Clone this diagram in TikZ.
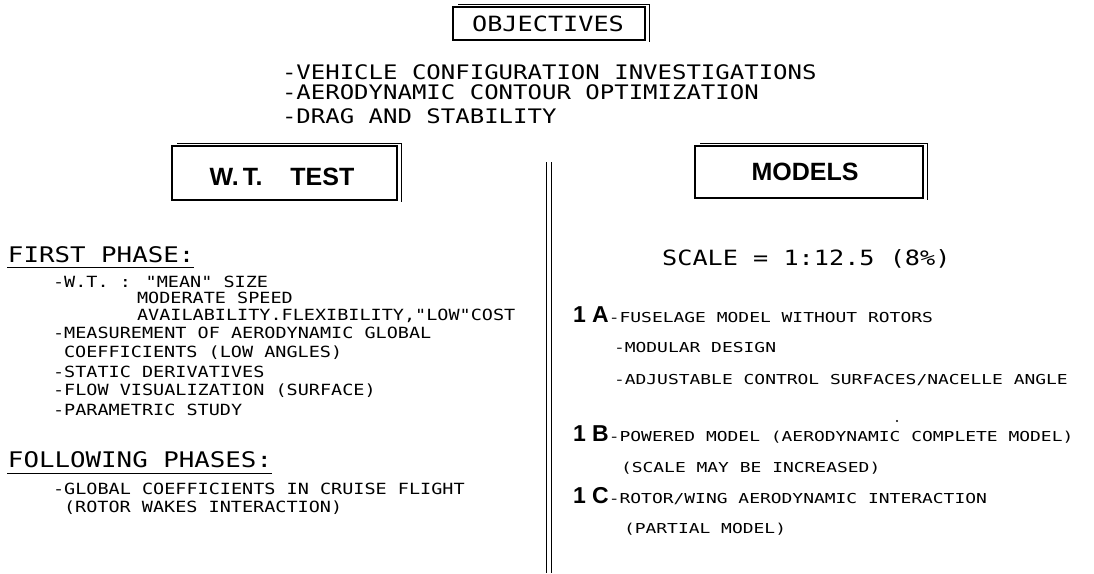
\documentclass[tikz,border=0pt]{standalone}
\usepackage{fontspec}
\newfontfamily\plotA[FakeStretch=1.2]{DejaVu Sans Mono}
\newfontfamily\plotB[FakeStretch=1.31]{DejaVu Sans Mono}
\newfontfamily\heavy{Liberation Sans}
\begin{document}
\begin{tikzpicture}[x=1pt,y=-1pt,
  txt/.style={inner sep=0pt, outer sep=0pt, anchor=base west},
  objt/.style={txt, font=\plotA\fontsize{20}{24}\selectfont},
  headt/.style={txt, font=\plotA\fontsize{21.5}{26}\selectfont},
  bodyt/.style={txt, font=\plotA\fontsize{15.4}{18}\selectfont},
  smallt/.style={txt, font=\plotB\fontsize{13.7}{16}\selectfont},
  bignum/.style={txt, font=\heavy\bfseries\fontsize{23}{27}\selectfont},
  boxed/.style={draw, line width=1.1pt, inner sep=0pt, outer sep=0pt},
  shadowline/.style={line width=1pt},
  titlet/.style={inner sep=0pt, font=\heavy\bfseries\fontsize{25}{30}\selectfont},
  boxlabel/.style={inner sep=0pt, font=\plotA\fontsize{21}{25}\selectfont},
  underl/.style={line width=1pt}
]
\useasboundingbox (0,0) rectangle (1094,573);

% OBJECTIVES
\node[boxed, minimum width=192pt, minimum height=33pt] (objbox) at (549,23.5) {};
\draw[shadowline] ([shift={(5pt,3pt)}]objbox.north west) -| ([shift={(4pt,-2pt)}]objbox.south east);
\node[boxlabel] (objlbl) at (548,24) {OBJECTIVES};

\node[objt] (o1) at (282,79.5) {-VEHICLE CONFIGURATION INVESTIGATIONS};
\node[objt] (o2) at (282,99) {-AERODYNAMIC CONTOUR OPTIMIZATION};
\node[objt] (o3) at (282,123) {-DRAG AND STABILITY};

% W.T. TEST
\node[boxed, minimum width=225pt, minimum height=54pt] (wtbox) at (284.5,173) {};
\draw[shadowline] ([shift={(5pt,3pt)}]wtbox.north west) -| ([shift={(4pt,-2pt)}]wtbox.south east);
\node[titlet] (wtlbl) at (282,177) {W.\,T.\hspace{28pt}TEST};

% MODELS
\node[boxed, minimum width=228pt, minimum height=52pt] (mdbox) at (809,172) {};
\draw[shadowline] ([shift={(5pt,3pt)}]mdbox.north west) -| ([shift={(4pt,-2pt)}]mdbox.south east);
\node[titlet] (mdlbl) at (805,172) {MODELS};

% divider
\coordinate (vt) at (549,162);
\coordinate (vb) at (549,573);
\draw[line width=1.2pt, double, double distance=4.5pt] (vt) -- (vb);

% left column
\node[headt] (fp) at (8,262) {FIRST PHASE:};
\draw[underl] ([shift={(-1pt,-5pt)}]fp.base west) -- ([yshift=-5pt]fp.base east);
\node[bodyt] (l1) at (53,287) {-W.T. : "MEAN" SIZE};
\node[bodyt] (l2) at (137,303) {MODERATE SPEED};
\node[bodyt] (l3) at (137,320) {AVAILABILITY.FLEXIBILITY,"LOW"COST};
\node[bodyt] (l4) at (53,338) {-MEASUREMENT OF AERODYNAMIC GLOBAL};
\node[bodyt] (l5) at (64,357) {COEFFICIENTS (LOW ANGLES)};
\node[bodyt] (l6) at (53,377) {-STATIC DERIVATIVES};
\node[bodyt] (l7) at (53,395) {-FLOW VISUALIZATION (SURFACE)};
\node[bodyt] (l8) at (53,415) {-PARAMETRIC STUDY};

\node[headt] (fol) at (8,467) {FOLLOWING PHASES:};
\draw[underl] ([shift={(-1pt,-6pt)}]fol.base west) -- ([yshift=-6pt]fol.base east);
\node[bodyt] (f1) at (53,494) {-GLOBAL COEFFICIENTS IN CRUISE FLIGHT};
\node[bodyt] (f2) at (64,512) {(ROTOR WAKES INTERACTION)};

% right column
\node[boxlabel, anchor=base west] (scale) at (662,265) {SCALE = 1:12.5 (8\%)};

\node[bignum] (n1a) at (573,322) {1 A};
\node[smallt] (t1a) at (n1a.base east) {-FUSELAGE MODEL WITHOUT ROTORS};
\node[smallt] (r1) at (614,352) {-MODULAR DESIGN};
\node[smallt] (r2) at (614,384.5) {-ADJUSTABLE CONTROL SURFACES/NACELLE ANGLE};
\fill (897,421) circle (1.1pt);

\node[bignum] (n1b) at (573,441) {1 B};
\node[smallt] (t1b) at (n1b.base east) {-POWERED MODEL (AERODYNAMIC COMPLETE MODEL)};
\node[smallt] (r3) at (621,472) {(SCALE MAY BE INCREASED)};

\node[bignum] (n1c) at (573,503) {1 C};
\node[smallt] (t1c) at (n1c.base east) {-ROTOR/WING AERODYNAMIC INTERACTION};
\node[smallt] (r4) at (624,533) {(PARTIAL MODEL)};
\end{tikzpicture}
\end{document}
